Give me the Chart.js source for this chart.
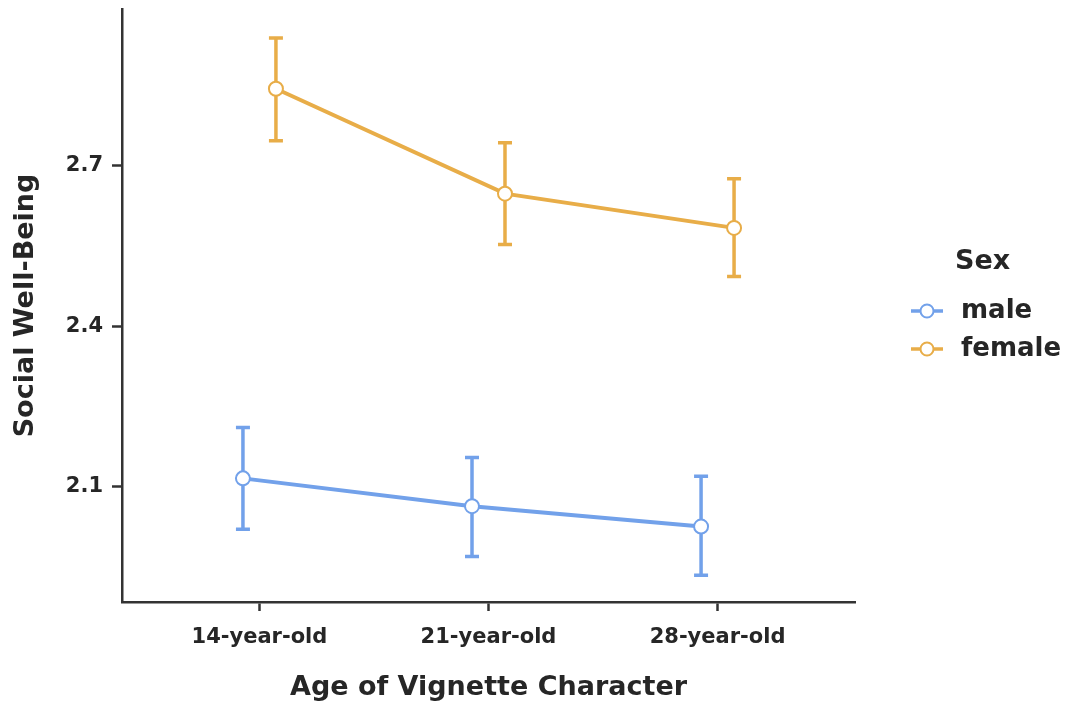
<!DOCTYPE html>
<html>
<head>
<meta charset="utf-8">
<script src="https://cdn.jsdelivr.net/npm/chart.js@4"></script>
<style>
  html, body { margin: 0; padding: 0; background: #fff; }
  #wrap { width: 1076px; height: 708px; }
</style>
</head>
<body>
<div id="wrap"><canvas id="chart" width="1076" height="708"></canvas></div>
<script>
const categories = ["14-year-old", "21-year-old", "28-year-old"];
const maleMean = [2.116, 2.064, 2.026];
const maleLow = [2.021, 1.970, 1.935];
const maleHigh = [2.211, 2.155, 2.120];
const femaleMean = [2.844, 2.648, 2.584];
const femaleLow = [2.747, 2.553, 2.493];
const femaleHigh = [2.939, 2.743, 2.676];
const yTicks = [2.1, 2.4, 2.7];

const maleColor = "#72a1ea";
const femaleColor = "#e8ad48";
const dodge = 0.072;
const font = "'DejaVu Sans', sans-serif";
const ink = "#262626";

const toPoints = (vals, off) => vals.map((v, i) => ({ x: i + 1 + off, y: v }));

// error bars drawn under the points
const errorBars = {
  id: "errorBars",
  beforeDatasetsDraw(chart) {
    const { ctx, scales: { x, y } } = chart;
    const sets = [
      [maleLow, maleHigh, -dodge, maleColor],
      [femaleLow, femaleHigh, dodge, femaleColor],
    ];
    ctx.save();
    sets.forEach(([lo, hi, off, col]) => {
      ctx.strokeStyle = col;
      ctx.lineWidth = 3.5;
      lo.forEach((l, i) => {
        const px = x.getPixelForValue(i + 1 + off);
        const y1 = y.getPixelForValue(l);
        const y2 = y.getPixelForValue(hi[i]);
        ctx.beginPath();
        ctx.moveTo(px, y1);
        ctx.lineTo(px, y2);
        ctx.moveTo(px - 7, y1);
        ctx.lineTo(px + 7, y1);
        ctx.moveTo(px - 7, y2);
        ctx.lineTo(px + 7, y2);
        ctx.stroke();
      });
    });
    ctx.restore();
  },
};

// ggplot-style legend on the right
const sideLegend = {
  id: "sideLegend",
  afterDraw(chart) {
    const ctx = chart.ctx;
    ctx.save();
    ctx.fillStyle = ink;
    ctx.textBaseline = "middle";
    ctx.textAlign = "left";
    ctx.font = "bold 27px " + font;
    ctx.fillText("Sex", 955, 262);
    [["male", maleColor, 311], ["female", femaleColor, 349]].forEach(([t, c, yy]) => {
      ctx.strokeStyle = c;
      ctx.lineWidth = 3.5;
      ctx.beginPath();
      ctx.moveTo(911, yy);
      ctx.lineTo(943, yy);
      ctx.stroke();
      ctx.beginPath();
      ctx.arc(927, yy, 6.5, 0, Math.PI * 2);
      ctx.fillStyle = "#fff";
      ctx.fill();
      ctx.lineWidth = 2;
      ctx.stroke();
      ctx.fillStyle = ink;
      ctx.font = "bold 26px " + font;
      ctx.fillText(t, 961, yy);
    });
    ctx.restore();
  },
};

const lineSet = (label, vals, off, col) => ({
  label,
  data: toPoints(vals, off),
  borderColor: col,
  borderWidth: 4,
  pointRadius: 7,
  pointBorderWidth: 2,
  pointBackgroundColor: "#fff",
  pointBorderColor: col,
  tension: 0,
});

new Chart(document.querySelector("#chart").getContext("2d"), {
  type: "line",
  data: {
    datasets: [
      lineSet("male", maleMean, -dodge, maleColor),
      lineSet("female", femaleMean, dodge, femaleColor),
    ],
  },
  options: {
    responsive: false,
    animation: false,
    layout: { padding: { left: 0, top: 8, right: 221, bottom: 0 } },
    plugins: { legend: { display: false }, tooltip: { enabled: false } },
    scales: {
      x: {
        type: "linear",
        min: 0.4,
        max: 3.6,
        afterBuildTicks: (s) => { s.ticks = categories.map((c, i) => ({ value: i + 1 })); },
        afterFit: (s) => { s.height = 106; s.paddingLeft = 0; s.paddingRight = 0; },
        ticks: {
          callback: (v) => categories[v - 1],
          color: ink,
          font: { family: font, size: 21, weight: "bold" },
          padding: 14,
          maxRotation: 0,
        },
        grid: { drawOnChartArea: false, drawTicks: true, tickLength: 9, tickColor: "#333", tickWidth: 2.5 },
        border: { display: true, color: "#333", width: 2.5 },
        title: {
          display: true,
          text: "Age of Vignette Character",
          color: ink,
          font: { family: font, size: 27, weight: "bold" },
          padding: { top: 0, bottom: 4 },
        },
      },
      y: {
        min: 1.885,
        max: 2.993,
        afterBuildTicks: (s) => { s.ticks = yTicks.map((v) => ({ value: v })); },
        afterFit: (s) => { s.width = 122; s.paddingTop = 0; s.paddingBottom = 0; },
        ticks: {
          callback: (v) => v.toFixed(1),
          color: ink,
          font: { family: font, size: 21, weight: "bold" },
          padding: 9,
        },
        grid: { drawOnChartArea: false, drawTicks: true, tickLength: 10, tickColor: "#333", tickWidth: 2.5 },
        border: { display: true, color: "#333", width: 2.5 },
        title: {
          display: true,
          text: "Social Well-Being",
          color: ink,
          font: { family: font, size: 27, weight: "bold" },
          padding: { top: 10, bottom: 0 },
        },
      },
    },
  },
  plugins: [errorBars, sideLegend],
});
</script>
</body>
</html>
